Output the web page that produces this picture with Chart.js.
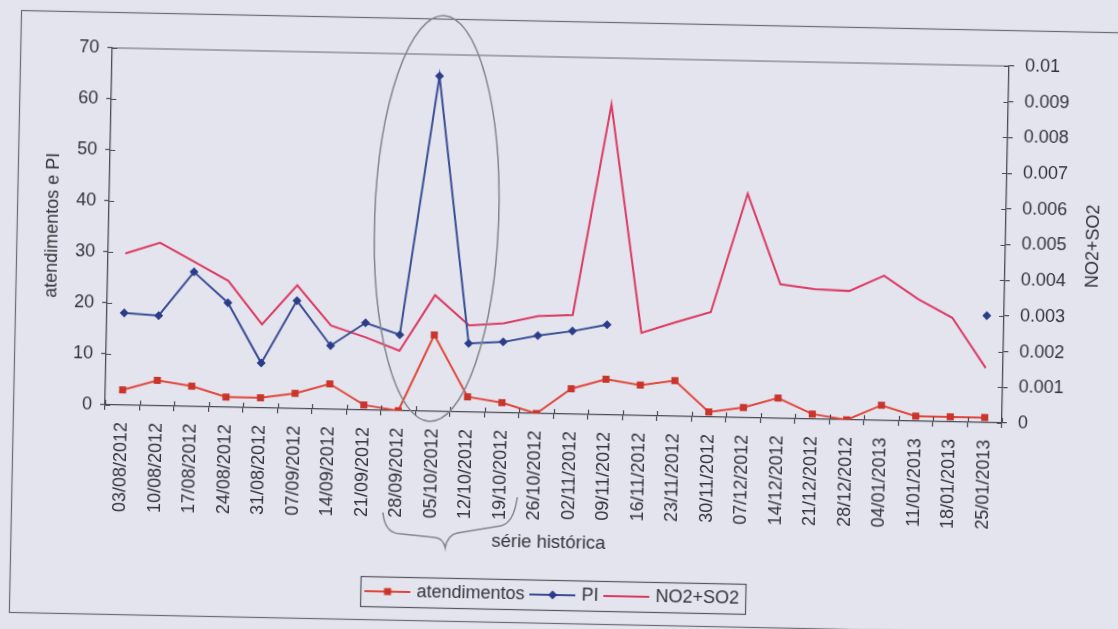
<!DOCTYPE html>
<html>
<head>
<meta charset="utf-8">
<title>atendimentos, PI e NO2+SO2</title>
<script src="https://cdn.jsdelivr.net/npm/chart.js@4.4.0/dist/chart.umd.min.js"></script>
<style>
  html, body { margin: 0; padding: 0; background: #e3e4ee; overflow: hidden; }
  /* a folha foi digitalizada um pouco torta */
  #wrap { width: 1118px; height: 629px; transform: rotate(1.16deg); transform-origin: 50% 50%; }
</style>
</head>
<body>
<div id="wrap"><canvas id="grafico" width="1118" height="629"></canvas></div>
<script>
// semanas da série
const semanas = ['03/08/2012', '10/08/2012', '17/08/2012', '24/08/2012', '31/08/2012',
  '07/09/2012', '14/09/2012', '21/09/2012', '28/09/2012', '05/10/2012', '12/10/2012',
  '19/10/2012', '26/10/2012', '02/11/2012', '09/11/2012', '16/11/2012', '23/11/2012',
  '30/11/2012', '07/12/2012', '14/12/2012', '21/12/2012', '28/12/2012', '04/01/2013',
  '11/01/2013', '18/01/2013', '25/01/2013'];

const atendimentos = [3, 5, 4, 2, 2, 3, 5, 1, 0, 15, 3, 2, 0, 5, 7, 6, 7, 1, 2, 4, 1, 0, 3, 1, 1, 1];

const pi = [18.1, 17.7, 26.4, 20.5, 8.8, 21.2, 12.5, 17.1, 14.9, 65.8, 13.5, 13.9, 15.3, 16.3, 17.7,
  null, null, null, null, null, null, null, null, null, null, 21];

const no2so2 = [0.00425, 0.00457, 0.00406, 0.00354, 0.00234, 0.00346, 0.00235, 0.00204, 0.00168,
  0.00326, 0.00243, 0.00251, 0.00273, 0.00278, 0.0087, 0.00232, 0.00264, 0.00294, 0.00628,
  0.00376, 0.00364, 0.00361, 0.00406, 0.00342, 0.00292, 0.00153];

const ticksEsq = [0, 10, 20, 30, 40, 50, 60, 70];
const ticksDir = [0, 0.001, 0.002, 0.003, 0.004, 0.005, 0.006, 0.007, 0.008, 0.009, 0.01];

const corAtend = '#e2473c', corAtendPonto = '#c9342b';
const corPI = '#3a4d95', corPIPonto = '#2b3c88';
const corNO2 = '#dc3a62';
const corEixo = '#4b4b55';
const corTexto = '#333338';
const fonte = "'Liberation Sans', Arial, sans-serif";

// icones da legenda: linha com o marcador no meio
function icone(cor, corPonto, tipo) {
  const c = document.createElement('canvas');
  c.width = 46; c.height = 14;
  const g = c.getContext('2d');
  g.strokeStyle = cor; g.lineWidth = 2;
  g.beginPath(); g.moveTo(0, 7); g.lineTo(46, 7); g.stroke();
  g.fillStyle = corPonto;
  if (tipo === 'quadrado') g.fillRect(19.5, 3.5, 7, 7);
  if (tipo === 'losango') {
    g.beginPath(); g.moveTo(23, 2.5); g.lineTo(27.5, 7); g.lineTo(23, 11.5); g.lineTo(18.5, 7); g.closePath(); g.fill();
  }
  return c;
}
const icones = [icone(corAtend, corAtendPonto, 'quadrado'), icone(corPI, corPIPonto, 'losango'), icone(corNO2, null, '')];

// marcas de escala que cruzam o eixo, titulo da direita, moldura e anotacoes a lapis
const extras = {
  id: 'extras',
  afterDraw(chart) {
    const ctx = chart.ctx;
    const a = chart.chartArea;
    const x = chart.scales.x, y = chart.scales.y, y2 = chart.scales.y2;
    ctx.save();

    // moldura externa
    ctx.strokeStyle = '#6a6a72'; ctx.lineWidth = 1.2;
    ctx.strokeRect(15.5, 21.5, 1125, 602);

    // borda da area de plotagem
    ctx.strokeStyle = '#66666e'; ctx.lineWidth = 1.2;
    ctx.beginPath(); ctx.moveTo(a.left, a.top); ctx.lineTo(a.right, a.top); ctx.stroke();

    // parte interna das marcas
    ctx.strokeStyle = corEixo; ctx.lineWidth = 1.2;
    ctx.beginPath();
    y.ticks.forEach(t => { const p = Math.round(y.getPixelForValue(t.value)) + 0.5; ctx.moveTo(a.left, p); ctx.lineTo(a.left + 5, p); });
    y2.ticks.forEach(t => { const p = Math.round(y2.getPixelForValue(t.value)) + 0.5; ctx.moveTo(a.right - 5, p); ctx.lineTo(a.right, p); });
    const w = x.getPixelForValue(1) - x.getPixelForValue(0);
    for (let i = 0; i <= semanas.length; i++) {
      const p = Math.round(x.getPixelForValue(i) - w / 2) + 0.5;
      ctx.moveTo(p, a.bottom); ctx.lineTo(p, a.bottom - 5);
    }
    ctx.stroke();

    // titulo do eixo da direita, lido de baixo para cima
    ctx.fillStyle = corTexto;
    ctx.font = '18px ' + fonte;
    ctx.textAlign = 'center'; ctx.textBaseline = 'middle';
    ctx.translate(y2.left + 88, (a.top + a.bottom) / 2);
    ctx.rotate(-Math.PI / 2);
    ctx.fillText('NO2+SO2', 0, 0);
    ctx.setTransform(1, 0, 0, 1, 0, 0);

    // caixa da legenda
    const hb = chart.legend.legendHitBoxes;
    const l = Math.min(...hb.map(h => h.left)) - 7;
    const r = Math.max(...hb.map(h => h.left + h.width)) + 6;
    ctx.strokeStyle = '#55555d'; ctx.lineWidth = 1.2;
    ctx.strokeRect(Math.round(l) + 0.5, Math.round(hb[0].top - 6) + 0.5, Math.round(r - l), hb[0].height + 12);

    // elipse em volta do pico de 05/10 e chave da serie historica
    ctx.strokeStyle = '#85858c'; ctx.lineWidth = 1.5;
    ctx.beginPath();
    ctx.ellipse(x.getPixelForValue(9), 221, 62, 203, 0.015, 0, Math.PI * 2);
    ctx.stroke();

    const x0 = x.getPixelForValue(8) - w / 2 + 4;
    const x1 = x.getPixelForValue(11) + w / 2;
    const xm = (x0 + x1) / 2 - 4;
    ctx.beginPath();
    ctx.moveTo(x0, 516);
    ctx.quadraticCurveTo(x0 + 2, 537, x0 + 18, 537);
    ctx.lineTo(xm - 10, 540);
    ctx.quadraticCurveTo(xm - 2, 541, xm, 550);
    ctx.quadraticCurveTo(xm + 2, 537, xm + 12, 535);
    ctx.lineTo(x1 - 16, 527);
    ctx.quadraticCurveTo(x1 - 3, 524, x1, 498);
    ctx.stroke();

    ctx.fillStyle = corTexto;
    ctx.font = '18.5px ' + fonte;
    ctx.textAlign = 'center'; ctx.textBaseline = 'middle';
    ctx.fillText('série histórica', 553, 543);
    ctx.restore();
  }
};

new Chart(document.getElementById('grafico'), {
  type: 'line',
  data: {
    labels: semanas,
    datasets: [
      {
        label: 'atendimentos', data: atendimentos, yAxisID: 'y',
        borderColor: corAtend, backgroundColor: corAtendPonto, borderWidth: 2,
        pointStyle: 'rect', pointRadius: 5, pointBackgroundColor: corAtendPonto, pointBorderWidth: 0
      },
      {
        label: 'PI', data: pi, yAxisID: 'y',
        borderColor: corPI, backgroundColor: corPIPonto, borderWidth: 2,
        pointStyle: 'rectRot', pointRadius: 4.5, pointBackgroundColor: corPIPonto, pointBorderWidth: 0
      },
      {
        label: 'NO2+SO2', data: no2so2, yAxisID: 'y2',
        borderColor: corNO2, backgroundColor: corNO2, borderWidth: 2, pointRadius: 0
      }
    ]
  },
  options: {
    responsive: false,
    devicePixelRatio: 1,
    animation: false,
    layout: { padding: { top: 57, left: 0, right: 0, bottom: 15 } },
    elements: { line: { tension: 0 } },
    plugins: {
      tooltip: { enabled: false },
      legend: {
        position: 'bottom',
        labels: {
          color: corTexto, font: { family: fonte, size: 18 }, padding: 8,
          usePointStyle: true, pointStyleWidth: 40,
          generateLabels(chart) {
            const itens = Chart.defaults.plugins.legend.labels.generateLabels(chart);
            itens.forEach(it => { it.pointStyle = icones[it.datasetIndex]; });
            return itens;
          }
        }
      }
    },
    scales: {
      x: {
        offset: true,
        grid: { offset: true, drawOnChartArea: false, tickLength: 5, color: corEixo, lineWidth: 1.2 },
        border: { color: corEixo, width: 1.3 },
        ticks: { autoSkip: false, minRotation: 90, maxRotation: 90, padding: 12, color: corTexto, font: { family: fonte, size: 18 } },
        afterFit(s) { s.height = 164; }
      },
      y: {
        position: 'left', min: 0, max: 70,
        afterBuildTicks(s) { s.ticks = ticksEsq.map(v => ({ value: v })); },
        grid: { drawOnChartArea: false, tickLength: 5, color: corEixo, lineWidth: 1.2 },
        border: { color: corEixo, width: 1.3 },
        ticks: { padding: 8, color: corTexto, font: { family: fonte, size: 18 } },
        title: { display: true, text: 'atendimentos e PI', color: corTexto, font: { family: fonte, size: 18 }, padding: { top: 40, bottom: 0 } },
        afterFit(s) { s.width = 107; }
      },
      y2: {
        position: 'right', min: 0, max: 0.01,
        afterBuildTicks(s) { s.ticks = ticksDir.map(v => ({ value: v })); },
        grid: { drawOnChartArea: false, tickLength: 5, color: corEixo, lineWidth: 1.2 },
        border: { color: corEixo, width: 1.3 },
        ticks: { padding: 11, color: corTexto, font: { family: fonte, size: 18 }, callback: v => String(parseFloat(v.toFixed(3))) },
        afterFit(s) { s.width = 114; }
      }
    }
  },
  plugins: [extras]
});
</script>
</body>
</html>
